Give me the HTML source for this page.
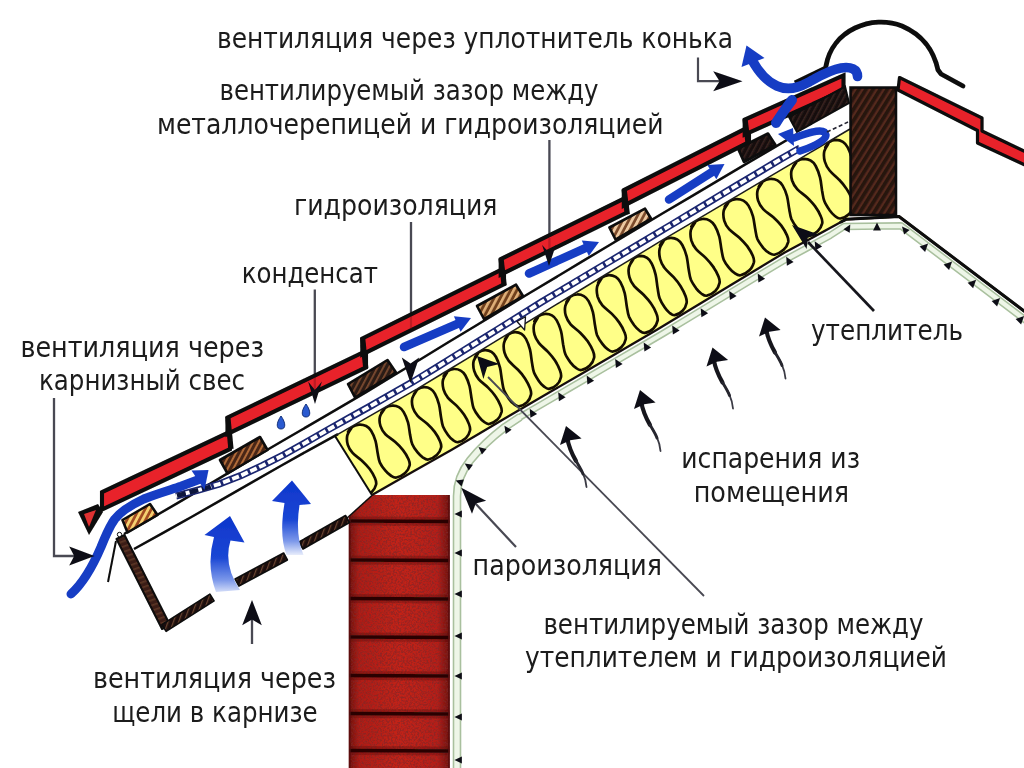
<!DOCTYPE html>
<html lang="ru"><head><meta charset="utf-8"><title>Вентиляция кровли</title>
<style>html,body{margin:0;padding:0;background:#fff;overflow:hidden}svg{display:block}</style></head>
<body><svg width="1024" height="768" viewBox="0 0 1024 768">
<defs>
<linearGradient id="brick" x1="349" x2="449.5" y1="0" y2="0" gradientUnits="userSpaceOnUse"><stop offset="0" stop-color="#6a0e0a"/><stop offset="0.1" stop-color="#b01c14"/><stop offset="0.5" stop-color="#c42218"/><stop offset="0.88" stop-color="#b81e18"/><stop offset="1" stop-color="#6a0e0a"/></linearGradient>
<filter id="nz" x="0" y="0" width="100%" height="100%"><feTurbulence type="fractalNoise" baseFrequency="0.55" numOctaves="3" seed="3"/><feColorMatrix type="matrix" values="0 0 0 0 0.22  0 0 0 0 0.02  0 0 0 0 0.02  0 0 0 2.6 -0.95"/></filter>
<pattern id="brickn" width="99" height="274" patternUnits="userSpaceOnUse"><rect width="99" height="274" filter="url(#nz)"/></pattern>
<pattern id="wood" width="6" height="6" patternUnits="userSpaceOnUse" patternTransform="rotate(-58)"><rect width="6" height="6" fill="#54291e"/><rect width="6" height="3.6" fill="#25120e"/></pattern>
<linearGradient id="ga1" x1="0" x2="0" y1="517" y2="598" gradientUnits="userSpaceOnUse"><stop offset="0" stop-color="#0e36cc"/><stop offset="0.5" stop-color="#1a46d4"/><stop offset="0.78" stop-color="#7c98ea"/><stop offset="1" stop-color="#ffffff"/></linearGradient>
<linearGradient id="ga2" x1="0" x2="0" y1="481" y2="558" gradientUnits="userSpaceOnUse"><stop offset="0" stop-color="#0e36cc"/><stop offset="0.5" stop-color="#1a46d4"/><stop offset="0.78" stop-color="#7c98ea"/><stop offset="1" stop-color="#ffffff"/></linearGradient>
<pattern id="wdark" width="5" height="5" patternUnits="userSpaceOnUse" patternTransform="rotate(-62)"><rect width="5" height="5" fill="#2c1a14"/><rect width="5" height="1.8" fill="#7a4a30"/></pattern>
<pattern id="wmid" width="5" height="5" patternUnits="userSpaceOnUse" patternTransform="rotate(-62)"><rect width="5" height="5" fill="#4a2618"/><rect width="5" height="2" fill="#b06a38"/></pattern>
<pattern id="wlight1" width="5.5" height="5.5" patternUnits="userSpaceOnUse" patternTransform="rotate(-62)"><rect width="5.5" height="5.5" fill="#a04a20"/><rect width="5.5" height="2.8" fill="#f6d070"/></pattern>
<pattern id="wlight2" width="5.5" height="5.5" patternUnits="userSpaceOnUse" patternTransform="rotate(-62)"><rect width="5.5" height="5.5" fill="#70401e"/><rect width="5.5" height="2.6" fill="#e0b078"/></pattern>
<pattern id="wlight3" width="5.5" height="5.5" patternUnits="userSpaceOnUse" patternTransform="rotate(-62)"><rect width="5.5" height="5.5" fill="#7a4a2a"/><rect width="5.5" height="2.8" fill="#ecc8a0"/></pattern>
<pattern id="wblack" width="5" height="5" patternUnits="userSpaceOnUse" patternTransform="rotate(-62)"><rect width="5" height="5" fill="#181010"/><rect width="5" height="1.5" fill="#3a2420"/></pattern>
<pattern id="wsoffit" width="5" height="5" patternUnits="userSpaceOnUse" patternTransform="rotate(-70)"><rect width="5" height="5" fill="#1e100c"/><rect width="5" height="1.2" fill="#6a4432"/></pattern>
<pattern id="wfascia" width="5" height="5" patternUnits="userSpaceOnUse" patternTransform="rotate(-20)"><rect width="5" height="5" fill="#3a1e16"/><rect width="5" height="1.6" fill="#5c3626"/></pattern>
<filter id="soft" x="0" y="0" width="1024" height="768" filterUnits="userSpaceOnUse"><feGaussianBlur stdDeviation="0.75"/></filter>
<filter id="softt" x="0" y="0" width="1024" height="768" filterUnits="userSpaceOnUse"><feGaussianBlur stdDeviation="0.45"/></filter>
<clipPath id="insclip"><polygon points="335.0,435.9 362.1,420.4 389.2,404.9 416.3,389.3 443.4,373.0 470.5,356.5 497.6,340.1 524.7,323.7 551.8,307.2 578.9,290.8 606.1,274.3 633.2,257.9 660.3,241.4 687.4,225.4 714.5,209.3 741.6,193.3 768.7,177.2 795.8,161.1 822.9,145.1 850.0,129.0 850.0,215.0 848.0,218.3 811.4,238.2 774.8,258.4 738.2,280.6 701.5,302.8 664.9,325.0 628.3,346.5 591.7,367.8 555.1,389.1 518.5,410.5 481.8,432.0 445.2,453.4 408.6,474.3 372.0,495.0"/></clipPath>
</defs>
<rect width="1024" height="768" fill="#fff"/>
<g filter="url(#soft)">
<polygon points="349,516.5 372.5,495 449.5,495 449.5,768 349,768" fill="url(#brick)"/>
<polygon points="349,516.5 372.5,495 449.5,495 449.5,768 349,768" fill="url(#brickn)" opacity="0.75"/>
<line x1="349" y1="521" x2="449.5" y2="521.5" stroke="#5a0c0a" stroke-width="9" opacity="0.35"/>
<line x1="349" y1="521" x2="449.5" y2="521.5" stroke="#2a0606" stroke-width="3.4"/>
<line x1="349" y1="560" x2="449.5" y2="560.5" stroke="#5a0c0a" stroke-width="9" opacity="0.35"/>
<line x1="349" y1="560" x2="449.5" y2="560.5" stroke="#2a0606" stroke-width="3.4"/>
<line x1="349" y1="598.5" x2="449.5" y2="599.0" stroke="#5a0c0a" stroke-width="9" opacity="0.35"/>
<line x1="349" y1="598.5" x2="449.5" y2="599.0" stroke="#2a0606" stroke-width="3.4"/>
<line x1="349" y1="637" x2="449.5" y2="637.5" stroke="#5a0c0a" stroke-width="9" opacity="0.35"/>
<line x1="349" y1="637" x2="449.5" y2="637.5" stroke="#2a0606" stroke-width="3.4"/>
<line x1="349" y1="675.5" x2="449.5" y2="676.0" stroke="#5a0c0a" stroke-width="9" opacity="0.35"/>
<line x1="349" y1="675.5" x2="449.5" y2="676.0" stroke="#2a0606" stroke-width="3.4"/>
<line x1="349" y1="713.5" x2="449.5" y2="714.0" stroke="#5a0c0a" stroke-width="9" opacity="0.35"/>
<line x1="349" y1="713.5" x2="449.5" y2="714.0" stroke="#2a0606" stroke-width="3.4"/>
<line x1="349" y1="750.5" x2="449.5" y2="751.0" stroke="#5a0c0a" stroke-width="9" opacity="0.35"/>
<line x1="349" y1="750.5" x2="449.5" y2="751.0" stroke="#2a0606" stroke-width="3.4"/>
<polyline points="346.0,519.0 372.5,495.0" fill="none" stroke="#0a0a0a" stroke-width="1.6"/>
<line x1="349.6" y1="516" x2="349.6" y2="768" stroke="#5a0a0a" stroke-width="2" opacity="0.8"/>
<line x1="449" y1="495" x2="449" y2="768" stroke="#5a0a0a" stroke-width="2" opacity="0.8"/>
<polygon points="335.0,435.9 362.1,420.4 389.2,404.9 416.3,389.3 443.4,373.0 470.5,356.5 497.6,340.1 524.7,323.7 551.8,307.2 578.9,290.8 606.1,274.3 633.2,257.9 660.3,241.4 687.4,225.4 714.5,209.3 741.6,193.3 768.7,177.2 795.8,161.1 822.9,145.1 850.0,129.0 850.0,215.0 848.0,218.3 811.4,238.2 774.8,258.4 738.2,280.6 701.5,302.8 664.9,325.0 628.3,346.5 591.7,367.8 555.1,389.1 518.5,410.5 481.8,432.0 445.2,453.4 408.6,474.3 372.0,495.0" fill="#ffff88" stroke="none"/>
<g clip-path="url(#insclip)">
<path d="M285.7,466.5 C286.3,465.7 287.6,462.9 289.3,461.8 C291.0,460.6 293.8,459.6 296.0,459.6 C298.2,459.5 300.8,460.2 302.7,461.4 C304.6,462.6 305.9,463.9 307.4,466.5 C308.8,469.1 310.5,473.2 311.5,477.0 C312.5,480.8 312.9,485.9 313.6,489.6 C314.3,493.2 314.4,496.0 315.6,499.0 C316.8,501.9 319.1,505.1 320.8,507.3 C322.5,509.5 324.0,511.1 325.8,512.3 C327.5,513.5 328.9,514.8 331.1,514.5 C333.4,514.2 337.3,512.2 339.4,510.2 C341.5,508.3 343.0,505.2 343.6,502.9 C344.1,500.6 343.6,499.3 342.5,496.7 C341.5,494.1 339.4,490.3 337.3,487.4 C335.3,484.5 332.9,481.9 330.1,479.1 C327.4,476.4 323.1,473.6 320.8,470.8 C318.5,468.0 317.0,465.4 316.2,462.4 C315.3,459.4 315.0,455.8 315.6,453.0 C316.2,450.2 319.7,446.3 319.8,445.7 C319.9,445.2 316.3,449.7 316.3,449.5 C316.4,449.4 318.3,446.0 320.1,444.8 C321.8,443.7 324.7,442.8 327.0,442.7 C329.3,442.6 332.0,443.3 333.9,444.4 C335.9,445.5 337.2,446.7 338.7,449.2 C340.2,451.7 341.9,455.7 343.0,459.5 C344.1,463.3 344.4,468.3 345.1,471.9 C345.9,475.5 346.0,478.3 347.3,481.2 C348.5,484.1 350.9,487.2 352.6,489.3 C354.4,491.5 356.0,493.0 357.7,494.2 C359.5,495.3 360.9,496.7 363.3,496.3 C365.6,495.9 369.7,493.9 371.8,491.9 C374.0,489.9 375.6,486.7 376.1,484.5 C376.6,482.2 376.1,480.8 375.0,478.2 C374.0,475.7 371.8,471.9 369.7,469.0 C367.5,466.1 365.1,463.6 362.2,460.9 C359.4,458.2 355.0,455.6 352.6,452.9 C350.2,450.2 348.7,447.7 347.8,444.8 C346.9,441.8 346.7,438.2 347.3,435.4 C347.9,432.6 351.4,428.5 351.5,428.0 C351.7,427.4 347.9,432.1 348.0,431.9 C348.0,431.8 350.0,428.3 351.8,427.0 C353.7,425.8 356.6,424.8 359.0,424.6 C361.4,424.4 364.1,425.0 366.2,426.0 C368.2,427.0 369.5,428.2 371.1,430.7 C372.7,433.2 374.4,437.2 375.5,440.9 C376.6,444.7 377.0,449.7 377.7,453.3 C378.4,457.0 378.6,459.7 379.9,462.6 C381.2,465.5 383.6,468.6 385.4,470.7 C387.2,472.9 388.9,474.4 390.7,475.5 C392.5,476.6 394.0,478.0 396.4,477.5 C398.8,477.1 403.0,475.0 405.2,473.0 C407.4,471.0 409.1,467.7 409.6,465.5 C410.2,463.2 409.6,461.8 408.5,459.2 C407.4,456.7 405.2,452.9 403.0,450.1 C400.8,447.2 398.2,444.7 395.3,442.1 C392.4,439.4 387.9,436.8 385.4,434.2 C382.9,431.5 381.4,429.0 380.5,426.1 C379.5,423.2 379.3,419.5 379.9,416.7 C380.5,413.9 384.1,409.8 384.3,409.2 C384.5,408.5 381.2,413.0 381.3,412.8 C381.5,412.6 383.3,409.2 385.1,408.0 C386.8,406.8 389.7,405.8 392.0,405.7 C394.3,405.5 397.0,406.1 398.9,407.2 C400.9,408.3 402.2,409.5 403.7,412.1 C405.2,414.6 406.9,418.6 408.0,422.4 C409.1,426.2 409.4,431.2 410.1,434.9 C410.9,438.5 411.0,441.3 412.3,444.2 C413.5,447.2 415.9,450.3 417.6,452.4 C419.4,454.6 421.0,456.1 422.7,457.3 C424.5,458.5 425.9,459.9 428.3,459.5 C430.6,459.1 434.7,457.0 436.8,455.0 C439.0,453.1 440.6,449.8 441.1,447.5 C441.6,445.2 441.1,443.8 440.0,441.2 C439.0,438.6 436.8,434.8 434.7,431.9 C432.5,429.0 430.1,426.5 427.2,423.8 C424.4,421.1 420.0,418.5 417.6,415.8 C415.2,413.1 413.7,410.5 412.8,407.6 C411.9,404.6 411.7,401.0 412.3,398.2 C412.9,395.4 416.3,391.4 416.5,390.7 C416.8,390.0 413.8,394.3 414.0,394.1 C414.2,393.9 415.8,390.6 417.5,389.4 C419.2,388.3 421.8,387.3 424.0,387.2 C426.2,387.1 428.7,387.7 430.5,388.8 C432.3,389.9 433.6,391.2 435.0,393.8 C436.4,396.4 438.0,400.4 439.0,404.3 C440.0,408.1 440.3,413.2 441.0,416.9 C441.7,420.6 441.8,423.5 443.0,426.4 C444.2,429.4 446.4,432.6 448.0,434.9 C449.6,437.1 451.1,438.7 452.8,439.9 C454.5,441.2 455.8,442.6 458.0,442.2 C460.2,441.9 464.0,439.9 466.0,438.0 C468.0,436.0 469.5,432.8 470.0,430.5 C470.5,428.2 470.0,426.8 469.0,424.1 C468.0,421.5 466.0,417.6 464.0,414.6 C462.0,411.6 459.7,408.9 457.0,406.1 C454.3,403.3 450.3,400.6 448.0,397.8 C445.8,395.0 444.3,392.4 443.5,389.4 C442.7,386.4 442.4,382.7 443.0,379.9 C443.6,377.0 446.9,372.9 447.0,372.4 C447.1,371.8 443.6,376.5 443.7,376.3 C443.7,376.2 445.6,372.6 447.3,371.4 C449.0,370.2 451.8,369.2 454.0,369.0 C456.2,368.9 458.8,369.5 460.7,370.6 C462.6,371.6 463.9,372.9 465.4,375.5 C466.8,378.1 468.5,382.1 469.5,386.0 C470.5,389.9 470.9,395.0 471.6,398.7 C472.3,402.4 472.4,405.3 473.6,408.3 C474.8,411.3 477.1,414.5 478.8,416.7 C480.5,418.9 482.0,420.5 483.8,421.7 C485.5,422.9 486.9,424.3 489.1,424.0 C491.4,423.6 495.3,421.6 497.4,419.6 C499.5,417.5 501.0,414.3 501.6,412.0 C502.1,409.6 501.6,408.2 500.5,405.5 C499.5,402.9 497.4,399.0 495.3,396.0 C493.3,393.0 490.9,390.4 488.1,387.6 C485.4,384.8 481.1,382.1 478.8,379.3 C476.5,376.5 475.0,373.9 474.2,370.9 C473.3,367.9 473.0,364.2 473.6,361.3 C474.2,358.5 477.5,354.4 477.8,353.7 C478.0,353.0 474.9,357.6 475.0,357.4 C475.1,357.2 476.8,353.7 478.5,352.5 C480.2,351.3 482.8,350.3 485.0,350.2 C487.2,350.1 489.7,350.8 491.5,351.9 C493.3,353.1 494.6,354.4 496.0,357.0 C497.4,359.7 499.0,363.8 500.0,367.7 C501.0,371.6 501.3,376.8 502.0,380.6 C502.7,384.4 502.8,387.2 504.0,390.3 C505.2,393.3 507.4,396.6 509.0,398.9 C510.6,401.2 512.1,402.8 513.8,404.0 C515.5,405.3 516.8,406.8 519.0,406.4 C521.2,406.1 525.0,404.1 527.0,402.2 C529.0,400.2 530.5,397.0 531.0,394.6 C531.5,392.3 531.0,390.8 530.0,388.1 C529.0,385.4 527.0,381.5 525.0,378.4 C523.0,375.3 520.7,372.6 518.0,369.8 C515.3,366.9 511.3,364.0 509.0,361.2 C506.8,358.3 505.3,355.7 504.5,352.6 C503.7,349.6 503.4,345.8 504.0,343.0 C504.6,340.1 507.8,336.0 508.0,335.4 C508.2,334.8 504.9,339.4 505.0,339.2 C505.1,339.0 506.8,335.5 508.5,334.3 C510.2,333.1 512.8,332.1 515.0,332.1 C517.2,332.0 519.7,332.7 521.5,333.8 C523.3,335.0 524.6,336.3 526.0,339.0 C527.4,341.6 529.0,345.8 530.0,349.7 C531.0,353.7 531.3,358.9 532.0,362.7 C532.7,366.5 532.8,369.4 534.0,372.5 C535.2,375.5 537.4,378.8 539.0,381.2 C540.6,383.5 542.1,385.1 543.8,386.4 C545.5,387.7 546.8,389.2 549.0,388.9 C551.2,388.6 555.0,386.6 557.0,384.6 C559.0,382.7 560.5,379.4 561.0,377.1 C561.5,374.7 561.0,373.2 560.0,370.5 C559.0,367.8 557.0,363.7 555.0,360.6 C553.0,357.5 550.7,354.8 548.0,351.9 C545.3,349.0 541.3,346.1 539.0,343.2 C536.8,340.3 535.3,337.6 534.5,334.6 C533.7,331.5 533.4,327.7 534.0,324.8 C534.6,321.9 538.0,317.8 538.0,317.2 C538.1,316.6 534.3,321.6 534.3,321.4 C534.3,321.3 536.3,317.6 538.1,316.4 C539.8,315.1 542.7,314.0 545.0,313.9 C547.3,313.7 550.0,314.3 551.9,315.4 C553.9,316.5 555.2,317.8 556.7,320.4 C558.2,323.1 559.9,327.2 561.0,331.2 C562.1,335.1 562.4,340.4 563.1,344.2 C563.9,348.0 564.0,350.9 565.3,354.0 C566.5,357.0 568.9,360.3 570.6,362.6 C572.4,364.9 574.0,366.5 575.7,367.7 C577.5,369.0 578.9,370.4 581.3,370.0 C583.6,369.7 587.7,367.5 589.8,365.5 C592.0,363.4 593.6,360.1 594.1,357.7 C594.6,355.3 594.1,353.9 593.0,351.1 C592.0,348.4 589.8,344.4 587.7,341.3 C585.5,338.3 583.1,335.6 580.2,332.7 C577.4,329.9 573.0,327.1 570.6,324.3 C568.2,321.4 566.7,318.8 565.8,315.7 C564.9,312.7 564.7,308.8 565.3,305.9 C565.9,303.0 569.4,298.7 569.5,298.1 C569.7,297.4 566.3,302.2 566.4,302.0 C566.5,301.8 568.4,298.2 570.1,296.9 C571.9,295.7 574.7,294.6 577.0,294.5 C579.3,294.3 581.9,295.0 583.9,296.1 C585.8,297.2 587.1,298.6 588.6,301.2 C590.1,303.9 591.8,308.1 592.9,312.1 C593.9,316.1 594.3,321.4 595.0,325.3 C595.7,329.1 595.9,332.1 597.1,335.2 C598.4,338.3 600.7,341.6 602.4,343.9 C604.1,346.2 605.7,347.9 607.5,349.1 C609.3,350.4 610.7,351.9 613.0,351.5 C615.3,351.2 619.3,349.1 621.5,347.0 C623.6,345.0 625.2,341.6 625.7,339.2 C626.2,336.8 625.7,335.3 624.6,332.6 C623.6,329.8 621.5,325.7 619.3,322.6 C617.2,319.5 614.8,316.8 611.9,313.9 C609.1,311.0 604.8,308.1 602.4,305.3 C600.0,302.4 598.5,299.7 597.6,296.6 C596.8,293.5 596.5,289.6 597.1,286.7 C597.7,283.7 601.2,279.4 601.4,278.8 C601.5,278.1 598.0,283.0 598.1,282.8 C598.2,282.6 600.1,278.9 601.8,277.7 C603.6,276.4 606.4,275.4 608.8,275.2 C611.1,275.1 613.7,275.8 615.7,276.9 C617.6,278.1 618.9,279.4 620.4,282.1 C621.9,284.8 623.6,289.0 624.7,293.1 C625.7,297.1 626.1,302.5 626.8,306.4 C627.5,310.3 627.7,313.2 628.9,316.4 C630.2,319.5 632.5,322.8 634.2,325.2 C636.0,327.6 637.6,329.2 639.3,330.5 C641.1,331.8 642.5,333.3 644.9,332.9 C647.2,332.6 651.2,330.5 653.4,328.4 C655.5,326.4 657.1,323.0 657.6,320.6 C658.1,318.1 657.6,316.6 656.5,313.8 C655.5,311.0 653.4,306.9 651.2,303.8 C649.1,300.6 646.6,297.9 643.8,295.0 C641.0,292.0 636.6,289.1 634.2,286.2 C631.8,283.3 630.3,280.5 629.5,277.4 C628.6,274.3 628.3,270.4 628.9,267.4 C629.5,264.4 632.9,260.2 633.2,259.5 C633.5,258.8 630.4,263.3 630.6,263.1 C630.7,262.9 632.4,259.3 634.1,258.1 C635.8,256.9 638.4,256.0 640.6,255.9 C642.8,255.9 645.3,256.7 647.1,257.9 C648.9,259.1 650.2,260.5 651.6,263.3 C653.0,266.1 654.6,270.5 655.6,274.6 C656.6,278.7 656.9,284.1 657.6,288.1 C658.3,292.0 658.4,295.0 659.6,298.2 C660.8,301.4 663.0,304.9 664.6,307.3 C666.2,309.7 667.7,311.4 669.4,312.7 C671.1,314.0 672.4,315.5 674.6,315.2 C676.8,314.9 680.6,312.9 682.6,310.8 C684.6,308.8 686.1,305.5 686.6,303.0 C687.1,300.6 686.6,299.1 685.6,296.3 C684.6,293.5 682.6,289.4 680.6,286.2 C678.6,283.0 676.3,280.2 673.6,277.2 C670.9,274.1 666.9,271.1 664.6,268.0 C662.4,265.0 660.9,262.2 660.1,259.0 C659.3,255.8 659.0,251.8 659.6,248.9 C660.2,245.9 663.5,241.7 663.6,241.1 C663.7,240.5 659.9,245.5 660.0,245.3 C660.0,245.2 661.9,241.5 663.7,240.2 C665.5,239.0 668.3,238.0 670.6,237.9 C672.9,237.8 675.6,238.5 677.5,239.7 C679.5,240.9 680.8,242.3 682.3,245.0 C683.8,247.7 685.5,252.0 686.6,256.1 C687.6,260.2 688.0,265.6 688.7,269.5 C689.4,273.4 689.6,276.3 690.8,279.5 C692.1,282.6 694.4,285.9 696.1,288.3 C697.9,290.6 699.5,292.2 701.2,293.5 C703.0,294.7 704.4,296.2 706.8,295.7 C709.1,295.3 713.1,293.1 715.3,291.0 C717.4,288.9 719.0,285.5 719.5,283.1 C720.1,280.7 719.5,279.2 718.5,276.5 C717.4,273.7 715.3,269.7 713.1,266.6 C711.0,263.5 708.5,260.8 705.7,257.9 C702.9,255.0 698.5,252.1 696.1,249.2 C693.7,246.3 692.2,243.5 691.3,240.4 C690.5,237.2 690.2,233.3 690.8,230.3 C691.4,227.3 695.0,223.1 695.1,222.5 C695.2,221.9 691.3,226.9 691.3,226.7 C691.4,226.6 693.4,222.8 695.2,221.5 C697.1,220.3 700.1,219.2 702.5,219.0 C704.9,218.8 707.7,219.4 709.8,220.6 C711.8,221.7 713.2,223.0 714.8,225.7 C716.4,228.3 718.1,232.5 719.3,236.6 C720.4,240.6 720.7,245.9 721.5,249.8 C722.2,253.6 722.4,256.6 723.7,259.7 C725.0,262.7 727.5,266.0 729.3,268.2 C731.1,270.5 732.8,272.0 734.7,273.2 C736.5,274.4 738.0,275.8 740.5,275.3 C742.9,274.8 747.2,272.5 749.4,270.3 C751.7,268.2 753.3,264.8 753.9,262.3 C754.4,259.9 753.9,258.5 752.8,255.8 C751.7,253.1 749.4,249.2 747.2,246.1 C744.9,243.1 742.3,240.5 739.4,237.7 C736.4,234.9 731.8,232.2 729.3,229.4 C726.8,226.6 725.2,223.9 724.3,220.8 C723.4,217.7 723.1,213.8 723.7,210.8 C724.4,207.8 728.0,203.5 728.2,202.8 C728.3,202.2 724.6,207.1 724.7,207.0 C724.7,206.8 726.7,203.1 728.6,201.8 C730.5,200.4 733.5,199.3 736.0,199.1 C738.5,198.9 741.3,199.5 743.4,200.6 C745.4,201.7 746.9,203.0 748.5,205.6 C750.1,208.2 751.9,212.4 753.0,216.4 C754.1,220.4 754.5,225.7 755.3,229.5 C756.0,233.3 756.2,236.3 757.5,239.3 C758.9,242.3 761.4,245.5 763.2,247.8 C765.1,250.0 766.8,251.5 768.7,252.7 C770.5,253.8 772.1,255.1 774.5,254.7 C777.0,254.2 781.3,251.9 783.6,249.8 C785.9,247.7 787.6,244.5 788.2,242.1 C788.7,239.7 788.2,238.2 787.0,235.4 C785.9,232.7 783.6,228.7 781.3,225.6 C779.1,222.6 776.4,220.1 773.4,217.3 C770.4,214.6 765.8,211.9 763.2,209.1 C760.7,206.4 759.1,203.7 758.1,200.6 C757.2,197.6 756.9,193.7 757.5,190.7 C758.2,187.7 761.9,183.4 762.1,182.7 C762.3,182.1 758.6,187.0 758.7,186.8 C758.8,186.6 760.7,182.9 762.6,181.6 C764.5,180.3 767.5,179.2 770.0,179.0 C772.5,178.8 775.3,179.3 777.4,180.4 C779.4,181.5 780.9,182.8 782.5,185.4 C784.1,188.0 785.9,192.2 787.0,196.2 C788.1,200.2 788.5,205.6 789.3,209.4 C790.0,213.3 790.2,216.2 791.5,219.3 C792.9,222.4 795.4,225.8 797.2,228.1 C799.1,230.4 800.8,232.1 802.7,233.4 C804.5,234.7 806.1,236.2 808.5,235.8 C811.0,235.5 815.3,233.4 817.6,231.3 C819.9,229.2 821.6,225.9 822.2,223.4 C822.7,221.0 822.2,219.5 821.0,216.7 C819.9,213.9 817.6,209.7 815.3,206.6 C813.1,203.5 810.4,200.7 807.4,197.8 C804.4,194.9 799.8,192.1 797.2,189.2 C794.7,186.3 793.1,183.6 792.1,180.5 C791.2,177.4 790.9,173.6 791.5,170.6 C792.2,167.6 795.8,163.3 796.1,162.6 C796.4,161.9 793.2,166.5 793.3,166.3 C793.5,166.0 795.3,162.4 797.1,161.2 C798.8,160.0 801.7,158.9 804.0,158.8 C806.3,158.8 809.0,159.5 810.9,160.7 C812.9,161.8 814.2,163.2 815.7,166.0 C817.2,168.8 818.9,173.1 820.0,177.3 C821.1,181.4 821.4,186.8 822.1,190.8 C822.9,194.8 823.0,197.8 824.3,201.0 C825.5,204.2 827.9,207.7 829.6,210.2 C831.4,212.6 833.0,214.4 834.7,215.8 C836.5,217.2 837.9,218.8 840.3,218.5 C842.6,218.3 846.7,216.3 848.8,214.3 C851.0,212.3 852.6,208.9 853.1,206.5 C853.6,204.0 853.1,202.5 852.0,199.6 C851.0,196.6 848.8,192.4 846.7,189.1 C844.5,185.8 842.1,182.8 839.2,179.8 C836.4,176.7 832.0,173.6 829.6,170.5 C827.2,167.5 825.7,164.7 824.8,161.5 C823.9,158.3 823.7,154.3 824.3,151.3 C824.9,148.3 828.4,144.0 828.5,143.4 C828.7,142.7 825.2,147.6 825.3,147.4 C825.4,147.2 827.3,143.5 829.1,142.2 C830.8,141.0 833.7,140.0 836.0,139.9 C838.3,139.9 841.0,140.6 842.9,141.8 C844.9,143.1 846.2,144.5 847.7,147.3 C849.2,150.2 850.9,154.6 852.0,158.8 C853.1,163.1 853.4,168.6 854.1,172.7 C854.9,176.7 855.0,179.8 856.3,183.1 C857.5,186.4 859.9,189.9 861.6,192.5 C863.4,195.0 865.0,196.8 866.7,198.2 C868.5,199.7 869.9,201.3 872.3,201.1 C874.6,200.8 878.7,198.9 880.8,196.9 C883.0,194.9 884.6,191.4 885.1,188.9 C885.6,186.4 885.1,184.8 884.0,181.9 C883.0,178.9 880.8,174.5 878.7,171.1 C876.5,167.8 874.1,164.8 871.2,161.6 C868.4,158.4 864.0,155.2 861.6,152.1 C859.2,149.0 857.7,146.1 856.8,142.8 C855.9,139.6 855.7,135.5 856.3,132.5 C856.9,129.4 859.8,125.8 860.5,124.4" fill="none" stroke="#141000" stroke-width="2.7" stroke-linejoin="round"/>
</g>
<polyline points="372.0,495.0 335.0,436.0" fill="none" stroke="#0a0a0a" stroke-width="2"/>
<polyline points="372.0,495.0 400.0,479.1 425.6,464.6 451.3,449.9 476.9,434.9 502.6,419.8 528.2,404.8 553.9,389.8 579.5,374.9 605.2,359.9 630.8,345.0 656.5,330.1 682.1,314.6 707.8,299.0 733.4,283.5 759.1,267.9 784.7,252.6 810.4,238.7 836.0,224.8 846.0,219.3 899.0,216.5 1024.0,311.0" fill="none" stroke="#14100a" stroke-width="2.3" stroke-linejoin="round"/>
<polyline points="840.0,222.5 846.0,219.3 899.0,216.5 1026.0,312.5" fill="none" stroke="#0c0a08" stroke-width="3.1" stroke-linejoin="round"/>
<path d="M457,770 L457,496 C457,483 462,470.5 470,460.5 C478,450.5 490,438.5 505,427 L520,417.0" fill="none" stroke="#a9c09e" stroke-width="8.6" stroke-linejoin="round"/>
<path d="M512,422.3 L520.0,417.0 L543.8,403.1 L567.7,389.2 L591.5,375.3 L615.4,361.4 L639.2,347.5 L663.1,333.5 L686.9,319.1 L710.8,304.6 L734.6,290.1 L758.5,275.7 L782.3,261.3 L806.2,248.4 L830.0,235.5 L844,226.5 L901,225.8 L1026,320.5" fill="none" stroke="#a9c09e" stroke-width="7.4" stroke-linejoin="round"/>
<path d="M457,770 L457,496 C457,483 462,470.5 470,460.5 C478,450.5 490,438.5 505,427 L520,417.0" fill="none" stroke="#eef6e8" stroke-width="5.4" stroke-linejoin="round"/>
<path d="M512,422.3 L520.0,417.0 L543.8,403.1 L567.7,389.2 L591.5,375.3 L615.4,361.4 L639.2,347.5 L663.1,333.5 L686.9,319.1 L710.8,304.6 L734.6,290.1 L758.5,275.7 L782.3,261.3 L806.2,248.4 L830.0,235.5 L844,226.5 L901,225.8 L1026,320.5" fill="none" stroke="#eef6e8" stroke-width="4.3" stroke-linejoin="round"/>
<polygon points="454.4,760.0 461.9,756.4 461.9,763.6" fill="#101018"/>
<polygon points="454.4,717.0 461.9,713.4 461.9,720.6" fill="#101018"/>
<polygon points="454.4,676.0 461.9,672.4 461.9,679.6" fill="#101018"/>
<polygon points="454.4,636.0 461.9,632.4 461.9,639.6" fill="#101018"/>
<polygon points="454.4,594.0 461.9,590.4 461.9,597.6" fill="#101018"/>
<polygon points="454.4,553.0 461.9,549.4 461.9,556.6" fill="#101018"/>
<polygon points="454.4,514.0 461.9,510.4 461.9,517.6" fill="#101018"/>
<polygon points="455.7,480.4 463.9,479.6 461.5,486.4" fill="#101018"/>
<polygon points="464.7,463.4 472.9,464.7 468.8,470.6" fill="#101018"/>
<polygon points="478.5,447.0 486.5,449.1 481.9,454.6" fill="#101018"/>
<polygon points="504.4,425.7 511.6,429.8 505.7,433.9" fill="#101018"/>
<polygon points="529.7,408.8 537.1,414.0 530.4,417.8" fill="#101018"/>
<polygon points="558.2,392.2 565.6,397.3 558.9,401.2" fill="#101018"/>
<polygon points="586.7,375.6 594.1,380.7 587.4,384.6" fill="#101018"/>
<polygon points="615.2,359.0 622.6,364.1 615.9,368.0" fill="#101018"/>
<polygon points="643.7,342.4 651.1,347.5 644.4,351.4" fill="#101018"/>
<polygon points="672.2,325.5 679.6,330.6 672.9,334.5" fill="#101018"/>
<polygon points="700.7,308.2 708.1,313.3 701.4,317.2" fill="#101018"/>
<polygon points="729.2,290.9 736.6,296.0 729.9,299.9" fill="#101018"/>
<polygon points="757.7,273.6 765.1,278.7 758.4,282.6" fill="#101018"/>
<polygon points="786.2,256.8 793.6,261.9 786.9,265.8" fill="#101018"/>
<polygon points="814.7,241.3 822.1,246.4 815.4,250.3" fill="#101018"/>
<polygon points="850.3,224.5 849.7,232.8 843.5,229.2" fill="#101018"/>
<polygon points="877.0,222.5 880.9,230.6 873.1,230.6" fill="#101018"/>
<polygon points="902.0,226.5 909.6,229.9 904.1,234.5" fill="#101018"/>
<polygon points="928.1,243.4 925.1,251.9 919.6,246.4" fill="#101018"/>
<polygon points="952.1,261.6 949.1,270.1 943.6,264.6" fill="#101018"/>
<polygon points="976.1,279.8 973.1,288.3 967.6,282.8" fill="#101018"/>
<polygon points="1000.1,297.9 997.1,306.4 991.6,300.9" fill="#101018"/>
<polygon points="1024.1,316.1 1021.1,324.6 1015.6,319.1" fill="#101018"/>
<polyline points="124.0,534.0 151.0,518.5 177.9,502.8 204.9,486.9 231.8,470.9 258.8,454.7 285.8,439.0 312.7,423.4 339.7,407.7 366.6,391.8 393.6,375.5 420.6,359.2 447.5,342.8 474.5,326.5 501.4,310.1 528.4,293.8 555.4,277.6 582.3,261.4 609.3,245.3 636.2,229.1 663.2,213.0 690.2,197.1 717.1,181.2 744.1,165.2 771.0,149.3 798.0,133.5" fill="none" stroke="#0a0a0a" stroke-width="2.5"/>
<polyline points="134.0,549.0 163.1,532.8 192.3,516.5 221.4,499.9 250.6,483.2 279.7,466.5 308.9,450.1 338.0,434.2" fill="none" stroke="#0a0a0a" stroke-width="2.5"/>
<polyline points="336.0,435.4 363.1,419.8 390.1,404.3 417.2,388.8 444.2,372.5 471.3,356.1 498.3,339.7 525.4,323.3 552.4,306.9 579.5,290.5 606.5,274.0 633.6,257.6 660.6,241.2 687.7,225.2 714.7,209.2 741.8,193.1 768.8,177.1 795.9,161.1 822.9,145.0 850.0,129.0" fill="none" stroke="#1c1c1c" stroke-width="1.5"/>
<polyline points="176.0,496.0 197.5,490.3 219.0,484.1 240.6,475.7 262.1,465.7 283.6,454.9 305.1,442.9 326.6,430.5 348.1,418.5 369.7,406.5 391.2,394.2 412.7,382.0 434.2,368.9 455.7,355.5 477.2,342.1 498.8,328.7 520.3,315.3 541.8,301.9 563.3,289.1 584.8,276.3 606.3,263.5 627.9,250.6 649.4,237.8 670.9,225.0 692.4,212.1 713.9,199.1 735.4,186.2 757.0,173.3 778.5,160.4 800.0,148.0" fill="none" stroke="#1a2670" stroke-width="7.2"/>
<polyline points="176.0,496.0 197.5,490.3 219.0,484.1 240.6,475.7 262.1,465.7 283.6,454.9 305.1,442.9 326.6,430.5 348.1,418.5 369.7,406.5 391.2,394.2 412.7,382.0 434.2,368.9 455.7,355.5 477.2,342.1 498.8,328.7 520.3,315.3 541.8,301.9 563.3,289.1 584.8,276.3 606.3,263.5 627.9,250.6 649.4,237.8 670.9,225.0 692.4,212.1 713.9,199.1 735.4,186.2 757.0,173.3 778.5,160.4 800.0,148.0" fill="none" stroke="#ffffff" stroke-width="3.9" stroke-dasharray="7.2 2.6"/>
<polyline points="177.0,495.7 184.4,493.8 191.8,491.8 199.2,489.9 206.6,487.9 214.0,486.0" fill="none" stroke="#10163c" stroke-width="4.6" stroke-dasharray="9 4"/>
<polygon points="517.0,321.5 525.5,316.8 524.6,330.0" fill="#ffffff" stroke="#14141c" stroke-width="1.3" stroke-linejoin="round"/>
<polygon points="116.5,539.0 162.0,629.0 170.0,625.0 124.5,535.0" fill="url(#wfascia)" stroke="#0a0a0a" stroke-width="2" stroke-linejoin="round"/>
<polygon points="166.1,631.4 214.1,600.9 209.9,594.1 161.9,624.6" fill="url(#wsoffit)" stroke="#0a0a0a" stroke-width="1.6" stroke-linejoin="round"/>
<polygon points="238.9,586.0 287.4,560.0 283.6,553.0 235.1,579.0" fill="url(#wsoffit)" stroke="#0a0a0a" stroke-width="1.6" stroke-linejoin="round"/>
<polygon points="303.0,549.0 349.5,522.5 345.5,515.5 299.0,542.0" fill="url(#wsoffit)" stroke="#0a0a0a" stroke-width="1.6" stroke-linejoin="round"/>
<polyline points="314.8,289.5 314.8,374.0" fill="none" stroke="#484852" stroke-width="2.3"/>
<polyline points="411.0,222.0 411.0,313.0" fill="none" stroke="#484852" stroke-width="2.3"/>
<polyline points="549.4,140.0 549.4,234.5" fill="none" stroke="#484852" stroke-width="2.3"/>
<polygon points="102.0,492.2 230.0,431.8 230.0,449.2 102.0,509.6" fill="#e8222c" stroke="#0a0a0a" stroke-width="4.1" stroke-linejoin="miter"/>
<polygon points="227.5,417.5 366.0,351.0 366.0,367.4 227.5,433.9" fill="#e8222c" stroke="#0a0a0a" stroke-width="4.1" stroke-linejoin="miter"/>
<polygon points="362.3,338.5 504.0,268.4 504.0,284.3 362.3,354.4" fill="#e8222c" stroke="#0a0a0a" stroke-width="4.1" stroke-linejoin="miter"/>
<polygon points="500.7,259.2 627.0,197.1 627.0,212.5 500.7,274.6" fill="#e8222c" stroke="#0a0a0a" stroke-width="4.1" stroke-linejoin="miter"/>
<polygon points="623.8,190.2 749.0,126.8 749.0,142.2 623.8,205.6" fill="#e8222c" stroke="#0a0a0a" stroke-width="4.1" stroke-linejoin="miter"/>
<polygon points="744.7,119.7 843.5,75.3 843.5,90.2 744.7,134.6" fill="#e8222c" stroke="#0a0a0a" stroke-width="4.1" stroke-linejoin="miter"/>
<polyline points="227.8,416.7 231.0,449.0" fill="none" stroke="#0a0a0a" stroke-width="5.2"/>
<polyline points="362.6,337.7 365.8,368.2" fill="none" stroke="#0a0a0a" stroke-width="5.2"/>
<polyline points="501.0,258.4 504.2,285.6" fill="none" stroke="#0a0a0a" stroke-width="5.2"/>
<polyline points="624.1,189.4 627.3,214.3" fill="none" stroke="#0a0a0a" stroke-width="5.2"/>
<polyline points="745.0,118.9 748.2,144.0" fill="none" stroke="#0a0a0a" stroke-width="5.2"/>
<polygon points="78.0,512.0 98.0,504.0 103.0,512.0 89.0,535.0" fill="#0a0a0a"/>
<polygon points="84.0,514.0 96.0,510.0 89.0,527.0" fill="#e03030"/>
<polygon points="122.5,520.0 150.0,504.0 157.5,515.0 127.5,532.5" fill="url(#wlight1)" stroke="#0a0a0a" stroke-width="2.6" stroke-linejoin="round"/>
<polygon points="220.0,460.0 260.0,437.0 267.5,450.0 227.5,473.5" fill="url(#wmid)" stroke="#0a0a0a" stroke-width="2.6" stroke-linejoin="round"/>
<polygon points="348.0,384.0 387.5,360.0 396.0,372.5 355.0,397.5" fill="url(#wdark)" stroke="#0a0a0a" stroke-width="2.6" stroke-linejoin="round"/>
<polygon points="477.0,306.0 516.0,284.7 523.0,296.0 484.0,319.0" fill="url(#wlight2)" stroke="#0a0a0a" stroke-width="2.6" stroke-linejoin="round"/>
<polygon points="609.4,227.5 645.0,208.7 651.0,218.5 615.5,239.5" fill="url(#wlight3)" stroke="#0a0a0a" stroke-width="2.6" stroke-linejoin="round"/>
<polygon points="738.0,148.5 768.0,133.5 775.5,145.0 744.0,162.0" fill="url(#wblack)" stroke="#0a0a0a" stroke-width="2.6" stroke-linejoin="round"/>
<polygon points="789.0,117.0 845.0,86.5 849.0,103.0 797.0,132.0" fill="url(#wblack)" stroke="#0a0a0a" stroke-width="2"/>
<rect x="850.5" y="87.5" width="45.5" height="127.5" fill="url(#wood)" stroke="#0a0a0a" stroke-width="2.5"/>
<polygon points="899.5,77.5 982.0,118.0 982.0,131.0 1026.0,152.0 1026.0,165.5 977.5,143.0 977.5,130.5 898.0,90.0" fill="#e8222c" stroke="#0a0a0a" stroke-width="3.2" stroke-linejoin="round"/>
<path d="M826,66 C832,30 872,14 902,26 C925,36 934,52 938,70 L941,74 L963,86" fill="none" stroke="#0a0a0a" stroke-width="4.8" stroke-linecap="round"/>
<polyline points="404.0,347.0 457.2,324.0" fill="none" stroke="#153cc4" stroke-width="8.5" stroke-linecap="round"/>
<polygon points="471.0,318.0 460.6,331.8 453.9,316.2" fill="#153cc4"/>
<polyline points="529.0,273.5 585.3,248.2" fill="none" stroke="#153cc4" stroke-width="8.5" stroke-linecap="round"/>
<polygon points="599.0,242.0 588.8,255.9 581.8,240.4" fill="#153cc4"/>
<polyline points="669.0,199.5 711.9,172.1" fill="none" stroke="#153cc4" stroke-width="8.5" stroke-linecap="round"/>
<polygon points="724.5,164.0 716.4,179.2 707.3,164.9" fill="#153cc4"/>
<path d="M230,516 L244.5,542.5 L230.5,540.5 Q223,565 240,590 L216,592 Q206,565 214,537 L204.5,535 Z" fill="url(#ga1)"/>
<path d="M292,480.5 L311,504 L299.5,505 Q295,535 303.5,555 L286.5,555 Q279,535 284.5,503 L272,501 Z" fill="url(#ga2)"/>
<path d="M71,594 C81,585 92,568 101,547 C105,537 109,527 114.5,519.5 C120,512 131,505 143.75,499 C156,494 170,490 181,486.3 L199,479.5" fill="none" stroke="#153cc4" stroke-width="9" stroke-linecap="round"/>
<polygon points="191.5,470.5 208.5,470.0 204.5,490.0" fill="#153cc4"/>
<path d="M116,541 L108,582" fill="none" stroke="#0a0a0a" stroke-width="2"/>
<circle cx="119.5" cy="534.5" r="2.2" fill="#fff" stroke="#0a0a0a" stroke-width="1"/>
<polyline points="795.0,83.0 827.0,67.5" fill="none" stroke="#0a0a0a" stroke-width="5"/>
<path d="M857.5,76.5 C857.5,69 851,66.5 841,68 C829,70 818,77 807,83 C797,88.5 786,90 777,86 C766,81 758,71 752,60" fill="none" stroke="#153cc4" stroke-width="9.6" stroke-linecap="round"/>
<polygon points="746.5,45.5 741.5,67.0 764.5,58.0" fill="#153cc4"/>
<path d="M792,100 C786,108 781,115 776,123" fill="none" stroke="#153cc4" stroke-width="10" stroke-linecap="round"/>
<path d="M800,151 C812,147 826,141 826,135 C825,128 812,131 794,138" fill="none" stroke="#153cc4" stroke-width="7.4" stroke-linecap="round"/>
<polygon points="778.0,134.0 793.0,128.0 794.0,146.0" fill="#153cc4"/>
<polyline points="827.0,132.0 848.0,122.0" fill="none" stroke="#222230" stroke-width="1.6" stroke-dasharray="4 2.5"/>
<path d="M281,416 C286,423 286,429 281,429 C276,429 276,423 281,416 Z" fill="#2a5ad0" stroke="#12307a" stroke-width="1"/>
<path d="M306,404 C311,411 311,417 306,417 C301,417 301,411 306,404 Z" fill="#2a5ad0" stroke="#12307a" stroke-width="1"/>
<polyline points="54.0,398.0 54.0,556.0 76.0,556.0" fill="none" stroke="#484852" stroke-width="2.3"/>
<polygon points="94.5,556.0 69.2,546.5 74.2,556.0 69.2,565.5" fill="#0c0c14"/>
<polygon points="315.0,404.0 321.9,381.5 315.0,389.9 308.1,381.5" fill="#0c0c14"/>
<polyline points="314.8,377.0 314.8,389.0" fill="none" stroke="#5a0a10" stroke-width="2.2" opacity="0.3"/>
<polygon points="410.5,383.0 419.2,357.5 410.5,363.6 401.8,357.5" fill="#0c0c14"/>
<polyline points="411.0,316.0 411.0,329.0" fill="none" stroke="#5a0a10" stroke-width="2.2" opacity="0.3"/>
<polygon points="549.0,266.0 555.9,245.1 549.0,252.4 542.1,245.1" fill="#0c0c14"/>
<polyline points="549.4,238.0 549.4,250.0" fill="none" stroke="#5a0a10" stroke-width="2.2" opacity="0.3"/>
<polyline points="698.0,57.5 698.0,81.2 722.0,81.2" fill="none" stroke="#484852" stroke-width="2.2"/>
<polygon points="742.5,81.2 713.2,71.2 719.6,81.2 713.2,91.2" fill="#0c0c14"/>
<polyline points="874.0,311.0 808.0,242.0" fill="none" stroke="#15151c" stroke-width="2.7"/>
<polygon points="792.0,225.0 806.6,248.9 807.7,237.7 818.4,234.4" fill="#0c0c14"/>
<polyline points="516.0,547.0 474.0,502.0" fill="none" stroke="#484852" stroke-width="2.2"/>
<polygon points="461.3,487.8 472.0,513.7 475.7,503.5 486.1,500.7" fill="#0c0c14"/>
<polyline points="704.0,596.0 488.0,377.0" fill="none" stroke="#484852" stroke-width="1.8"/>
<polygon points="477.0,356.0 483.4,379.1 487.1,366.9 499.6,364.0" fill="#0c0c14"/>
<polyline points="252.0,644.0 252.0,618.0" fill="none" stroke="#484852" stroke-width="2.3"/>
<polygon points="252.0,600.0 242.2,625.2 252.0,619.4 261.8,625.2" fill="#0c0c14"/>
<path d="M567.2,438 C569,448 572,454 576,461 C581,469 585.5,476 586.5,487" fill="none" stroke="#3a3a44" stroke-width="1.8" stroke-linecap="round"/>
<path d="M567.2,438 C569,448 572,454 576,461" fill="none" stroke="#16161e" stroke-width="4.2" stroke-linecap="round"/>
<path d="M576,461 C579,466 581.5,470 583,474" fill="none" stroke="#26262e" stroke-width="2.9" stroke-linecap="round"/>
<polygon points="566.0,426.0 560.0,445.1 570.3,440.2 581.6,438.5" fill="#0c0c14"/>
<path d="M641.2,402 C643,412 646,418 650,425 C655,433 659.5,440 660.5,451" fill="none" stroke="#3a3a44" stroke-width="1.8" stroke-linecap="round"/>
<path d="M641.2,402 C643,412 646,418 650,425" fill="none" stroke="#16161e" stroke-width="4.2" stroke-linecap="round"/>
<path d="M650,425 C653,430 655.5,434 657,438" fill="none" stroke="#26262e" stroke-width="2.9" stroke-linecap="round"/>
<polygon points="640.0,390.0 634.0,409.1 644.3,404.2 655.6,402.5" fill="#0c0c14"/>
<path d="M713.7,359.5 C715.5,369.5 718.5,375.5 722.5,382.5 C727.5,390.5 732.0,397.5 733.0,408.5" fill="none" stroke="#3a3a44" stroke-width="1.8" stroke-linecap="round"/>
<path d="M713.7,359.5 C715.5,369.5 718.5,375.5 722.5,382.5" fill="none" stroke="#16161e" stroke-width="4.2" stroke-linecap="round"/>
<path d="M722.5,382.5 C725.5,387.5 728.0,391.5 729.5,395.5" fill="none" stroke="#26262e" stroke-width="2.9" stroke-linecap="round"/>
<polygon points="712.5,347.5 706.5,366.6 716.8,361.7 728.1,360.0" fill="#0c0c14"/>
<path d="M766.2,329.5 C768,339.5 771,345.5 775,352.5 C780,360.5 784.5,367.5 785.5,378.5" fill="none" stroke="#3a3a44" stroke-width="1.8" stroke-linecap="round"/>
<path d="M766.2,329.5 C768,339.5 771,345.5 775,352.5" fill="none" stroke="#16161e" stroke-width="4.2" stroke-linecap="round"/>
<path d="M775,352.5 C778,357.5 780.5,361.5 782,365.5" fill="none" stroke="#26262e" stroke-width="2.9" stroke-linecap="round"/>
<polygon points="765.0,317.5 759.0,336.6 769.3,331.7 780.6,330.0" fill="#0c0c14"/>
</g>
<g filter="url(#softt)">
<text x="217" y="47.5" font-family="'DejaVu Sans Condensed','DejaVu Sans','Liberation Sans',sans-serif" font-size="28.3" textLength="516" lengthAdjust="spacingAndGlyphs" fill="#1a1a1a">вентиляция через уплотнитель конька</text>
<text x="219.5" y="100" font-family="'DejaVu Sans Condensed','DejaVu Sans','Liberation Sans',sans-serif" font-size="27.9" textLength="379.0" lengthAdjust="spacingAndGlyphs" fill="#1a1a1a">вентилируемый зазор между</text>
<text x="157" y="134.3" font-family="'DejaVu Sans Condensed','DejaVu Sans','Liberation Sans',sans-serif" font-size="27.9" textLength="506.5" lengthAdjust="spacingAndGlyphs" fill="#1a1a1a">металлочерепицей и гидроизоляцией</text>
<text x="294" y="215" font-family="'DejaVu Sans Condensed','DejaVu Sans','Liberation Sans',sans-serif" font-size="27.9" textLength="203.5" lengthAdjust="spacingAndGlyphs" fill="#1a1a1a">гидроизоляция</text>
<text x="241.7" y="282.5" font-family="'DejaVu Sans Condensed','DejaVu Sans','Liberation Sans',sans-serif" font-size="27.9" textLength="136.3" lengthAdjust="spacingAndGlyphs" fill="#1a1a1a">конденсат</text>
<text x="20.4" y="357" font-family="'DejaVu Sans Condensed','DejaVu Sans','Liberation Sans',sans-serif" font-size="27.9" textLength="243.6" lengthAdjust="spacingAndGlyphs" fill="#1a1a1a">вентиляция через</text>
<text x="39" y="390.3" font-family="'DejaVu Sans Condensed','DejaVu Sans','Liberation Sans',sans-serif" font-size="27.9" textLength="206" lengthAdjust="spacingAndGlyphs" fill="#1a1a1a">карнизный свес</text>
<text x="811" y="340" font-family="'DejaVu Sans Condensed','DejaVu Sans','Liberation Sans',sans-serif" font-size="27.9" textLength="152" lengthAdjust="spacingAndGlyphs" fill="#1a1a1a">утеплитель</text>
<text x="681.3" y="467.6" font-family="'DejaVu Sans Condensed','DejaVu Sans','Liberation Sans',sans-serif" font-size="27.6" textLength="178.70000000000005" lengthAdjust="spacingAndGlyphs" fill="#1a1a1a">испарения из</text>
<text x="693.7" y="502.3" font-family="'DejaVu Sans Condensed','DejaVu Sans','Liberation Sans',sans-serif" font-size="27.6" textLength="155.29999999999995" lengthAdjust="spacingAndGlyphs" fill="#1a1a1a">помещения</text>
<text x="472.6" y="575.3" font-family="'DejaVu Sans Condensed','DejaVu Sans','Liberation Sans',sans-serif" font-size="27.7" textLength="189.39999999999998" lengthAdjust="spacingAndGlyphs" fill="#1a1a1a">пароизоляция</text>
<text x="543.4" y="634" font-family="'DejaVu Sans Condensed','DejaVu Sans','Liberation Sans',sans-serif" font-size="27.9" textLength="380.1" lengthAdjust="spacingAndGlyphs" fill="#1a1a1a">вентилируемый зазор между</text>
<text x="525" y="666.5" font-family="'DejaVu Sans Condensed','DejaVu Sans','Liberation Sans',sans-serif" font-size="27.9" textLength="422" lengthAdjust="spacingAndGlyphs" fill="#1a1a1a">утеплителем и гидроизоляцией</text>
<text x="93" y="688" font-family="'DejaVu Sans Condensed','DejaVu Sans','Liberation Sans',sans-serif" font-size="27.9" textLength="243" lengthAdjust="spacingAndGlyphs" fill="#1a1a1a">вентиляция через</text>
<text x="112.2" y="722" font-family="'DejaVu Sans Condensed','DejaVu Sans','Liberation Sans',sans-serif" font-size="27.9" textLength="205.5" lengthAdjust="spacingAndGlyphs" fill="#1a1a1a">щели в карнизе</text>
</g>
</svg></body></html>
